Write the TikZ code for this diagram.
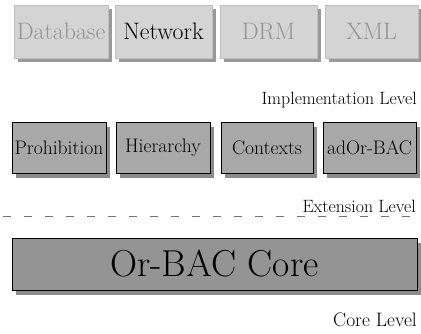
\documentclass[tikz,border=0pt]{standalone}
\usetikzlibrary{shadows}
\begin{document}
\begin{tikzpicture}[x=1pt,y=-1pt,
  implbox/.style={fill=black!17, draw=black!25, line width=0.4pt, inner sep=0pt,
    minimum height=53pt, font=\fontsize{23.8}{26}\selectfont,
    drop shadow={shadow xshift=4pt, shadow yshift=-4pt, fill=black!40, opacity=1}},
  fadetext/.style={text=black!42},
  extbox/.style={fill=black!34, draw=black, line width=0.6pt, inner sep=0pt,
    minimum height=51pt, font=\fontsize{19.6}{22}\selectfont,
    drop shadow={shadow xshift=4pt, shadow yshift=-5pt, fill=black!45, opacity=1}},
  corebox/.style={fill=black!42, draw=black, line width=0.6pt, inner sep=0pt,
    minimum height=52pt, font=\fontsize{37.5}{40}\selectfont,
    drop shadow={shadow xshift=4pt, shadow yshift=-5pt, fill=black!45, opacity=1}},
  lvl/.style={font=\fontsize{17.8}{20}\selectfont, anchor=base east, inner sep=0pt},
  sep/.style={dashed, dash pattern=on 8pt off 13pt, draw=black!55, line width=0.6pt}
]
\useasboundingbox (0,0) rectangle (421,333);

% implementation level
\node[implbox, fadetext, minimum width=94pt] (db) at (61,31.5) {Database};
\node[implbox, minimum width=97pt] (net) at (163.5,31.5) {Network};
\node[implbox, fadetext, minimum width=97pt] (drm) at (268.5,31.5) {DRM};
\node[implbox, fadetext, minimum width=93pt] (xml) at (371.5,31.5) {XML};
\node[lvl] (impl) at (417,104) {Implementation Level};

% extension level
\node[extbox, minimum width=94pt] (proh) at (59,147.5) {Prohibition};
\node[extbox, minimum width=94pt] (hier) at (163,147.5) {Hierarchy};
\node[extbox, minimum width=92pt] (ctx) at (267,147.5) {Contexts};
\node[extbox, minimum width=93pt] (ador) at (369.5,147.5) {adOr-BAC};
\node[lvl] (ext) at (416,212) {Extension Level};

\coordinate (dl) at (3,216.5);
\coordinate (dr) at (418,216.5);
\draw[sep] (dl) -- (dr);

% core level
\node[corebox, minimum width=405pt] (core) at (214.5,264) {Or-BAC Core};
\node[lvl, font=\fontsize{19.5}{22}\selectfont] (corelvl) at (417,326.5) {Core Level};
\end{tikzpicture}
\end{document}
